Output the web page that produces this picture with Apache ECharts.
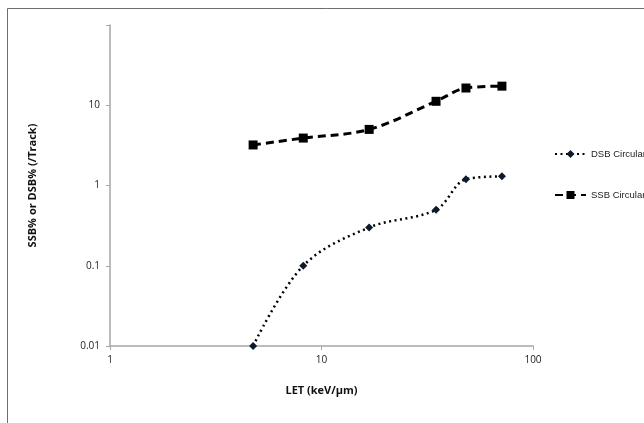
<!DOCTYPE html>
<html><head><meta charset="utf-8">
<script src="https://cdn.jsdelivr.net/npm/echarts@6/dist/echarts.min.js"></script>
<style>html,body{margin:0;padding:0;background:#fff}#c{width:644px;height:423px}</style>
</head><body><div id="c"></div>
<script>
const letValues = [4.75, 8.2, 16.8, 34.8, 48.2, 71.3];
const dsbValues = [0.01, 0.1, 0.3, 0.5, 1.2, 1.3];
const ssbValues = [3.2, 3.9, 5.0, 11.2, 16.4, 17.3];
const seriesNames = ['DSB Circular', 'SSB Circular'];
const xTitle = 'LET (keV/µm)';
const yTitle = 'SSB% or DSB% (/Track)';

const chart = echarts.init(document.getElementById('c'), null, {renderer: 'canvas'});
const font = 'Open Sans, Liberation Sans, sans-serif';
const legendFont = 'Liberation Sans, Arial, sans-serif';
const axisGray = '#a6a6a6';
chart.setOption({
  animation: false,
  backgroundColor: '#fff',
  graphic: [{type: 'rect', shape: {x: 7.5, y: 8.5, width: 700, height: 500},
    style: {fill: 'none', stroke: '#6e6e6e', lineWidth: 1}, silent: true}],
  grid: {left: 110, top: 25, right: 111, bottom: 77, containLabel: false},
  legend: {
    orient: 'vertical', left: 554, top: 149, padding: 0, itemGap: 31, itemWidth: 31, itemHeight: 10,
    textStyle: {fontFamily: legendFont, fontSize: 9.5, color: '#222'},
    data: seriesNames
  },
  xAxis: {
    type: 'log', logBase: 10, min: 1, max: 100,
    name: xTitle, nameLocation: 'middle', nameGap: 39,
    nameTextStyle: {fontFamily: font, fontSize: 11, fontWeight: 'bold', color: '#111'},
    axisLine: {lineStyle: {color: axisGray, width: 1.5}},
    axisTick: {show: true, length: 4, lineStyle: {color: axisGray}},
    minorTick: {show: false},
    axisLabel: {fontFamily: font, fontSize: 10, color: '#222', margin: 9},
    splitLine: {show: false}
  },
  yAxis: {
    type: 'log', logBase: 10, min: 0.01, max: 100,
    name: yTitle, nameLocation: 'middle', nameGap: 72, nameRotate: 90,
    nameTextStyle: {fontFamily: font, fontSize: 11, fontWeight: 'bold', color: '#111'},
    axisLine: {show: true, lineStyle: {color: axisGray, width: 1.5}},
    axisTick: {show: true, length: 4, lineStyle: {color: axisGray}},
    axisLabel: {fontFamily: font, fontSize: 10, color: '#222', margin: 10,
      formatter: v => (v >= 99 ? '' : String(+v.toPrecision(3)))},
    splitLine: {show: false}
  },
  series: [
    {
      name: seriesNames[0], type: 'line', smooth: 0.35,
      data: letValues.map((x, i) => [x, dsbValues[i]]),
      symbol: 'diamond', symbolSize: 8,
      itemStyle: {color: '#0d1a2e'},
      lineStyle: {color: '#000', width: 2.5, type: [2, 3.5]}
    },
    {
      name: seriesNames[1], type: 'line', smooth: 0.35,
      data: letValues.map((x, i) => [x, ssbValues[i]]),
      symbol: 'rect', symbolSize: 9,
      itemStyle: {color: '#000'},
      lineStyle: {color: '#000', width: 3, type: [8, 5]}
    }
  ]
});
</script></body></html>
